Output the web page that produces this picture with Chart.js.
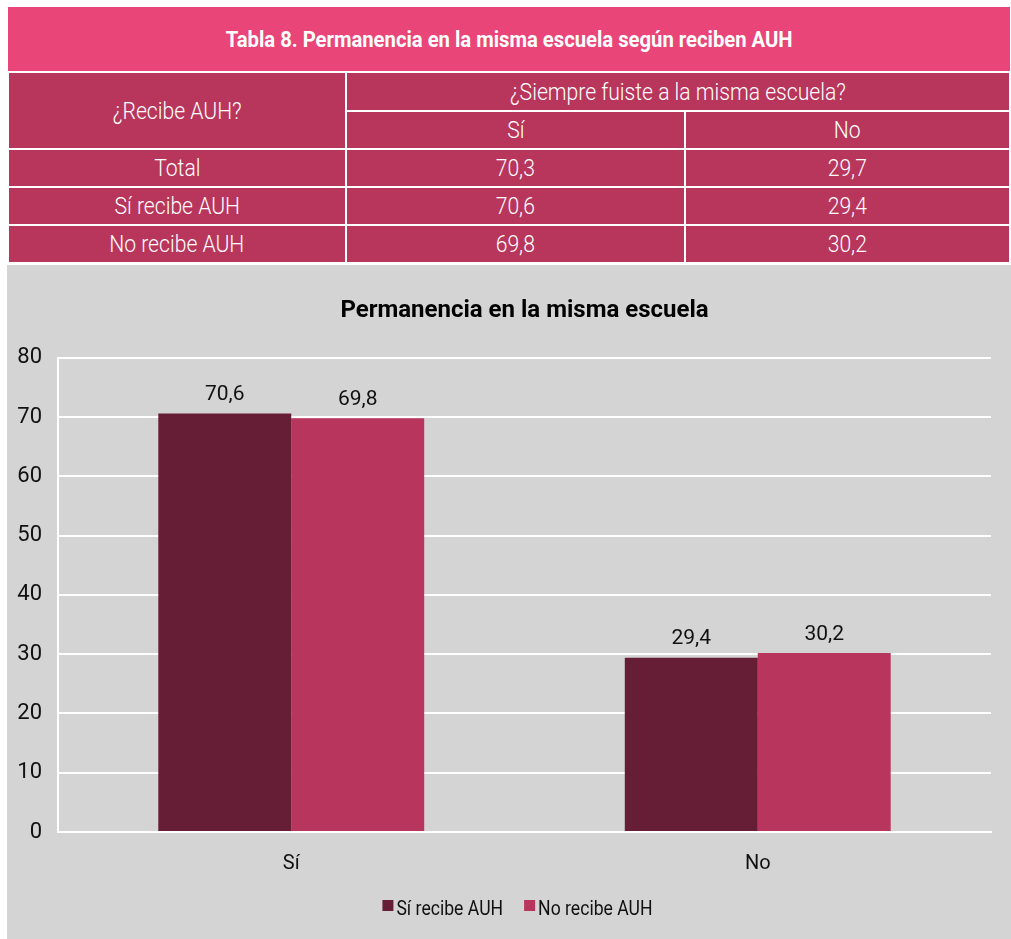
<!DOCTYPE html>
<html><head><meta charset="utf-8">
<script src="https://cdn.jsdelivr.net/npm/chart.js@4.4.0/dist/chart.umd.min.js"></script>
<style>
html,body{margin:0;padding:0;background:#fff;width:1011px;height:939px;overflow:hidden;}
#tbl{position:absolute;left:7px;top:7px;width:1004px;border-collapse:collapse;font-family:"Roboto",sans-serif;color:#fff;}
#tbl td{border:2px solid #fff;text-align:center;padding:0;font-size:24px;font-weight:300;background:#b8365c;}
#tbl td span{display:inline-block;transform:scaleX(0.88);white-space:nowrap;}
#tbl td.title{background:#e94578;font-weight:bold;font-size:22px;height:64px;border-top:none;border-left:none;border-right:none;}
#tbl td.title span{transform:scaleX(0.92);}
#wrap{position:absolute;left:7px;top:265px;width:1004px;height:674px;background:#d4d4d4;}
</style></head><body>
<table id="tbl"></table>
<div id="wrap"><canvas id="c" width="1004" height="674"></canvas></div>
<script>
const tableTitle = "Tabla 8. Permanencia en la misma escuela según reciben AUH";
const rowHeader = "¿Recibe AUH?";
const colGroupHeader = "¿Siempre fuiste a la misma escuela?";
const colHeaders = ["Sí", "No"];
const rowLabels = ["Total", "Sí recibe AUH", "No recibe AUH"];
const valuesSi = ["70,3", "70,6", "69,8"];
const valuesNo = ["29,7", "29,4", "30,2"];

const chartTitle = "Permanencia en la misma escuela";
const categories = ["Sí", "No"];
const seriesNames = ["Sí recibe AUH", "No recibe AUH"];
const siRecibe = [70.6, 29.4];
const noRecibe = [69.8, 30.2];
const yTicks = [0, 10, 20, 30, 40, 50, 60, 70, 80];
const seriesColors = ['#661e36', '#b8365e'];

// build table
const t = document.getElementById('tbl');
const s = x => `<span>${x}</span>`;
let h = `<tr><td class="title" colspan="3">${s(tableTitle)}</td></tr>`;
h += `<tr style="height:39px"><td rowspan="2" style="width:336px">${s(rowHeader)}</td><td colspan="2">${s(colGroupHeader)}</td></tr>`;
h += `<tr style="height:38px"><td style="width:337px">${s(colHeaders[0])}</td><td>${s(colHeaders[1])}</td></tr>`;
rowLabels.forEach((r,i)=>{ h += `<tr style="height:38px"><td>${s(r)}</td><td>${s(valuesSi[i])}</td><td>${s(valuesNo[i])}</td></tr>`; });
t.innerHTML = h;

const FONT = '"Roboto", sans-serif';
const labelPlugin = {
  id:'vals',
  afterDatasetsDraw(chart){
    const ctx = chart.ctx;
    ctx.save();
    ctx.font = '21px ' + FONT;
    ctx.fillStyle = '#111';
    ctx.textAlign = 'center';
    ctx.textBaseline = 'bottom';
    chart.data.datasets.forEach((ds,i)=>{
      chart.getDatasetMeta(i).data.forEach((bar,j)=>{
        ctx.fillText(String(ds.data[j]).replace('.', ','), bar.x, bar.y - 8);
      });
    });
    ctx.restore();
  }
};
const legendPlugin = {
  id:'customLegend',
  afterDraw(chart){
    const ctx = chart.ctx;
    ctx.save();
    ctx.font = '20px ' + FONT;
    const sx = 0.88;
    const box = 11, gapText = 3, gapItem = 21;
    const items = chart.data.datasets.map(d=>({label:d.label,color:d.backgroundColor,w:ctx.measureText(d.label).width*sx}));
    const total = items.reduce((a,it)=>a+box+gapText+it.w,0) + gapItem*(items.length-1);
    const cx = (chart.chartArea.left + chart.chartArea.right)/2 - 7;
    let x = cx - total/2;
    const y = 645;
    ctx.textBaseline = 'middle';
    ctx.textAlign = 'left';
    items.forEach(it=>{
      ctx.fillStyle = it.color;
      ctx.fillRect(x, y - 10, box, box);
      ctx.fillStyle = '#111';
      ctx.save();
      ctx.translate(x + box + gapText, y);
      ctx.scale(sx, 1);
      ctx.fillText(it.label, 0, 0);
      ctx.restore();
      x += box + gapText + it.w + gapItem;
    });
    ctx.restore();
  }
};

new Chart(document.getElementById('c'), {
  type:'bar',
  data:{
    labels: categories,
    datasets:[
      {label: seriesNames[0], data: siRecibe, backgroundColor:seriesColors[0]},
      {label: seriesNames[1], data: noRecibe, backgroundColor:seriesColors[1]}
    ]
  },
  options:{
    responsive:false,
    animation:false,
    categoryPercentage:0.57,
    barPercentage:1,
    layout:{padding:{left:7,right:20,top:21,bottom:49}},
    plugins:{
      title:{display:true,fullSize:false,text:chartTitle,color:'#000',font:{family:FONT,size:24,weight:'bold'},padding:{top:11,bottom:32}},
      legend:{display:false},
      tooltip:{enabled:false}
    },
    scales:{
      x:{grid:{display:false},border:{color:'#fff',width:2},
         ticks:{color:'#111',font:{family:FONT,size:20},padding:12},
         afterFit(sc){sc.height=58;}},
      y:{min:0,max:80,
         afterBuildTicks(sc){sc.ticks = yTicks.map(v=>({value:v}));},
         grid:{color:'#fff',lineWidth:2,drawTicks:false},
         border:{color:'#fff',width:2},
         ticks:{color:'#111',font:{family:FONT,size:22},padding:16},
         afterFit(sc){sc.width=44;}}
    }
  },
  plugins:[labelPlugin, legendPlugin]
});
</script>
</body></html>
